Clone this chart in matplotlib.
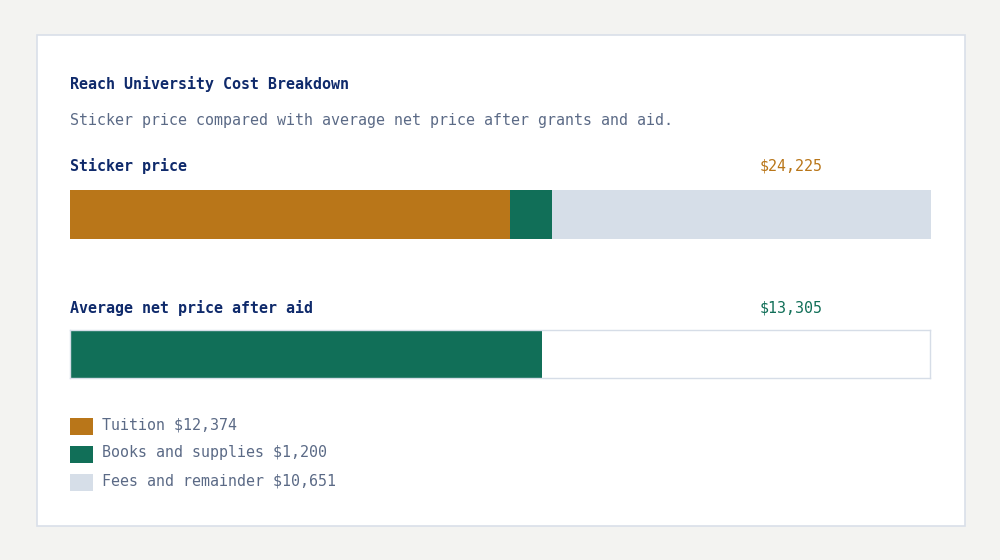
import matplotlib
matplotlib.use("Agg")
import matplotlib.pyplot as plt
from matplotlib.patches import Rectangle

# data
title = "Reach University Cost Breakdown"
subtitle = "Sticker price compared with average net price after grants and aid."
components = ["Tuition", "Books and supplies", "Fees and remainder"]
sticker_parts = [12374, 1200, 10651]
net_price = 13305
colors = ["#b97619", "#116f58", "#d6dee8"]

sticker_total = sum(sticker_parts)

W, H = 1000, 560
fig = plt.figure(figsize=(W / 100, H / 100), dpi=100)
fig.patch.set_facecolor("#f3f3f1")

navy = "#0f2a6b"
gray = "#5b6a86"
font = "DejaVu Sans Mono"
fs = 10.8


def px(x, y):
    return x / W, 1 - y / H


def rect(x0, y0, x1, y1):
    # axes rect from pixel box
    return [x0 / W, 1 - y1 / H, (x1 - x0) / W, (y1 - y0) / H]


# card
fig.patches.append(Rectangle(px(36.5, 526), 928 / W, 491.5 / H, transform=fig.transFigure,
                             facecolor="white", edgecolor="#d9dfe9", lw=1.2, zorder=-5))

fig.text(*px(70, 84), title, fontfamily=font, fontsize=fs, fontweight="bold",
         color=navy, va="center")
fig.text(*px(70, 120), subtitle, fontfamily=font, fontsize=fs, color=gray, va="center")

# sticker price bar
fig.text(*px(70, 166), "Sticker price", fontfamily=font, fontsize=fs,
         fontweight="bold", color=navy, va="center")
fig.text(*px(823, 166), f"${sticker_total:,}", fontfamily=font, fontsize=fs,
         color=colors[0], va="center", ha="right")

ax1 = fig.add_axes(rect(70, 190, 931, 239))
ax1.patch.set_alpha(0)
left = 0
for v, c in zip(sticker_parts, colors):
    ax1.barh(0, v, left=left, height=1, color=c)
    left += v
ax1.set_xlim(0, sticker_total)
ax1.set_ylim(-0.5, 0.5)
ax1.axis("off")

# net price bar
fig.text(*px(70, 308), "Average net price after aid", fontfamily=font, fontsize=fs,
         fontweight="bold", color=navy, va="center")
fig.text(*px(823, 308), f"${net_price:,}", fontfamily=font, fontsize=fs,
         color=colors[1], va="center", ha="right")

ax2 = fig.add_axes(rect(70, 330, 930, 378))
ax2.barh(0, net_price, height=1, color=colors[1])
ax2.set_xlim(0, sticker_total)
ax2.set_ylim(-0.5, 0.5)
ax2.set_xticks([])
ax2.set_yticks([])
for s in ax2.spines.values():
    s.set_color("#d6dde7")
    s.set_linewidth(1)

# legend
for i, (name, v, c) in enumerate(zip(components, sticker_parts, colors)):
    y = 426 + i * 28
    fig.patches.append(Rectangle(px(70, y + 9), 23 / W, 17 / H, transform=fig.transFigure,
                                 facecolor=c, edgecolor="none"))
    fig.text(*px(102, y - 1), f"{name} ${v:,}", fontfamily=font, fontsize=fs,
             color=gray, va="center")

fig.savefig("out.png", dpi=100, facecolor=fig.get_facecolor())
